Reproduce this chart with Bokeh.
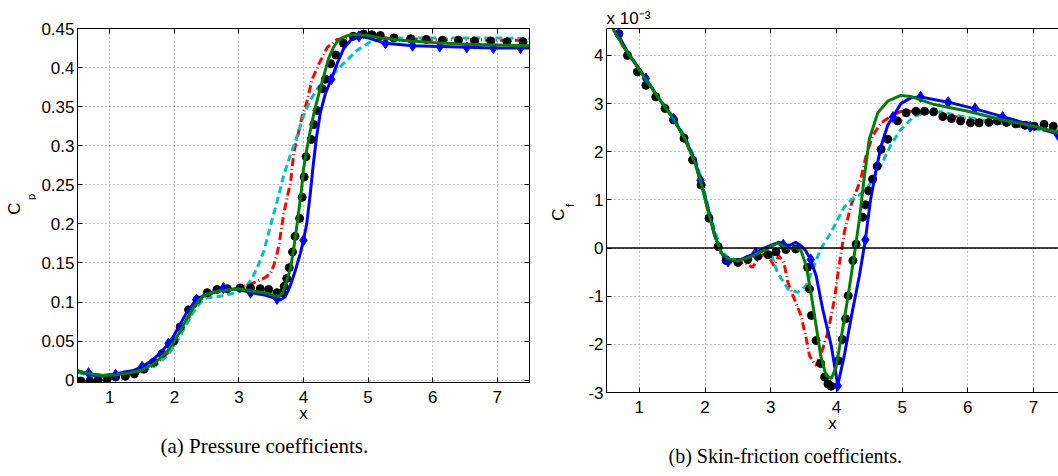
from math import pi
from bokeh.plotting import figure
from bokeh.layouts import row
from bokeh.models import LinearAxis, FixedTicker, CustomJSTickFormatter, Span, Title, Label
from bokeh.embed import file_html
from bokeh.resources import INLINE

# ---------------- data: (a) pressure coefficient ----------------
cp_exp_x = [0.55, 0.69, 0.82, 0.96, 1.09, 1.24, 1.38, 1.53, 1.68, 1.81, 1.99, 2.09, 2.22, 2.35,
            2.51, 2.66, 2.82, 3.02, 3.18, 3.33, 3.46, 3.59, 3.67, 3.70, 3.74, 3.78, 3.83, 3.87,
            3.94, 3.98, 4.01, 4.04, 4.12, 4.16, 4.21, 4.29, 4.34, 4.42, 4.50, 4.62, 4.77, 4.93,
            5.06, 5.19, 5.40, 5.66, 5.90, 6.15, 6.40, 6.65, 6.90, 7.15, 7.40]
cp_exp_y = [-0.001, -0.001, 0.000, 0.001, 0.004, 0.005, 0.008, 0.014, 0.023, 0.034, 0.050, 0.068,
            0.090, 0.103, 0.112, 0.116, 0.117, 0.118, 0.118, 0.117, 0.116, 0.112, 0.112, 0.120,
            0.130, 0.144, 0.164, 0.184, 0.207, 0.234, 0.260, 0.286, 0.308, 0.327, 0.345, 0.373,
            0.385, 0.405, 0.416, 0.431, 0.440, 0.443, 0.442, 0.441, 0.438, 0.437, 0.436, 0.435,
            0.435, 0.434, 0.434, 0.433, 0.433]

cp_blue_x = [0.5, 0.6, 0.7, 0.8, 0.9, 1.0, 1.1, 1.2, 1.35, 1.5, 1.65, 1.8, 1.91, 2.0, 2.1, 2.2,
             2.34, 2.5, 2.76, 3.0, 3.18, 3.4, 3.59, 3.65, 3.72, 3.8, 3.88, 3.95, 4.0, 4.05, 4.1,
             4.15, 4.2, 4.26, 4.34, 4.43, 4.52, 4.62, 4.73, 4.86, 5.0, 5.27, 5.69, 6.11, 6.53,
             6.94, 7.36, 7.5]
cp_blue_y = [0.012, 0.009, 0.007, 0.006, 0.006, 0.007, 0.008, 0.010, 0.012, 0.017, 0.025, 0.036,
             0.047, 0.058, 0.073, 0.088, 0.103, 0.110, 0.117, 0.116, 0.112, 0.109, 0.104, 0.103,
             0.107, 0.122, 0.142, 0.162, 0.179, 0.200, 0.235, 0.275, 0.310, 0.342, 0.367, 0.385,
             0.405, 0.424, 0.435, 0.440, 0.438, 0.431, 0.428, 0.427, 0.426, 0.425, 0.425, 0.425]
cp_mark_x = [0.67, 1.09, 1.5, 1.91, 2.34, 2.76, 3.18, 3.59, 4.0, 4.43, 4.86, 5.27, 5.69, 6.11,
             6.53, 6.94, 7.36]
cp_mark_y = [0.009, 0.007, 0.017, 0.047, 0.103, 0.118, 0.112, 0.104, 0.179, 0.385, 0.440, 0.431,
             0.428, 0.427, 0.426, 0.425, 0.425]

cp_green_x = [0.5, 0.7, 0.9, 1.1, 1.3, 1.5, 1.7, 1.9, 2.0, 2.1, 2.2, 2.3, 2.4, 2.5, 2.7, 3.0, 3.2,
              3.4, 3.55, 3.62, 3.68, 3.74, 3.8, 3.86, 3.92, 3.97, 4.0, 4.05, 4.11, 4.17, 4.24,
              4.31, 4.39, 4.46, 4.52, 4.6, 4.68, 4.78, 4.88, 5.0, 5.2, 5.5, 6.0, 6.5, 7.0, 7.5]
cp_green_y = [0.012, 0.008, 0.006, 0.007, 0.009, 0.013, 0.022, 0.038, 0.050, 0.064, 0.080, 0.094,
              0.104, 0.110, 0.114, 0.117, 0.114, 0.112, 0.108, 0.107, 0.112, 0.128, 0.143, 0.175,
              0.211, 0.245, 0.270, 0.295, 0.321, 0.345, 0.367, 0.388, 0.412, 0.425, 0.433, 0.438,
              0.441, 0.442, 0.442, 0.441, 0.438, 0.435, 0.432, 0.430, 0.429, 0.428]

cp_red_x = [0.5, 0.7, 0.9, 1.1, 1.3, 1.5, 1.7, 1.9, 2.0, 2.1, 2.2, 2.3, 2.4, 2.5, 2.7, 3.0, 3.18,
            3.33, 3.42, 3.49, 3.54, 3.58, 3.62, 3.69, 3.75, 3.8, 3.85, 3.92, 3.98, 4.05, 4.13,
            4.24, 4.37, 4.52, 4.73, 5.0, 5.5, 6.0, 6.5, 7.0, 7.5]
cp_red_y = [0.011, 0.008, 0.006, 0.006, 0.008, 0.012, 0.020, 0.035, 0.047, 0.061, 0.077, 0.092,
            0.102, 0.108, 0.114, 0.118, 0.123, 0.128, 0.132, 0.137, 0.147, 0.158, 0.173, 0.211,
            0.235, 0.253, 0.291, 0.316, 0.338, 0.355, 0.384, 0.405, 0.426, 0.436, 0.439, 0.439,
            0.437, 0.436, 0.436, 0.435, 0.435]

cp_cyan_x = [0.5, 0.7, 0.9, 1.1, 1.3, 1.5, 1.7, 1.9, 2.0, 2.1, 2.2, 2.3, 2.4, 2.5, 2.77, 3.0, 3.1,
             3.2, 3.28, 3.39, 3.49, 3.59, 3.69, 3.8, 3.9, 4.0, 4.11, 4.24, 4.39, 4.52, 4.68, 4.83,
             5.04, 5.24, 5.5, 6.0, 6.5, 7.0, 7.5]
cp_cyan_y = [0.010, 0.006, 0.004, 0.005, 0.007, 0.011, 0.018, 0.032, 0.044, 0.058, 0.073, 0.088,
             0.099, 0.105, 0.108, 0.113, 0.118, 0.130, 0.143, 0.166, 0.198, 0.228, 0.261, 0.289,
             0.312, 0.338, 0.359, 0.376, 0.386, 0.397, 0.410, 0.422, 0.433, 0.437, 0.438, 0.438,
             0.438, 0.438, 0.437]

# ---------------- data: (b) skin friction (values x 1e-3) ----------------
cf_exp_x = [0.69, 0.82, 0.97, 1.10, 1.25, 1.39, 1.52, 1.68, 1.81, 1.94, 2.06, 2.20, 2.32, 2.50,
            2.65, 2.80, 2.96, 3.08, 3.23, 3.38, 3.56, 3.59, 3.62, 3.69, 3.76, 3.82, 3.87, 3.92,
            4.03, 4.09, 4.14, 4.18, 4.25, 4.30, 4.40, 4.44, 4.49, 4.55, 4.62, 4.68, 4.78, 4.93,
            5.06, 5.21, 5.34, 5.48, 5.62, 5.75, 5.89, 6.04, 6.17, 6.32, 6.45, 6.59, 6.73, 6.87,
            7.01, 7.16, 7.30]
cf_exp_y = [4.45, 4.00, 3.66, 3.38, 3.14, 2.90, 2.66, 2.28, 1.83, 1.31, 0.62, 0.03, -0.26, -0.30,
            -0.24, -0.17, -0.14, -0.08, -0.03, -0.02, -0.40, -0.85, -1.40, -1.92, -2.40, -2.68,
            -2.82, -2.87, -2.34, -1.90, -1.47, -0.99, -0.26, 0.08, 0.64, 0.90, 1.19, 1.43, 1.70,
            2.05, 2.26, 2.64, 2.81, 2.84, 2.84, 2.83, 2.73, 2.69, 2.64, 2.60, 2.60, 2.61, 2.64,
            2.61, 2.58, 2.55, 2.53, 2.57, 2.53]

cf_blue_x = [0.65, 0.75, 0.85, 1.0, 1.1, 1.3, 1.52, 1.7, 1.85, 1.93, 2.05, 2.15, 2.25, 2.33, 2.5,
             2.65, 2.77, 2.9, 3.05, 3.13, 3.19, 3.3, 3.38, 3.46, 3.53, 3.6, 3.69, 3.79, 3.92,
             4.02, 4.12, 4.23, 4.35, 4.44, 4.52, 4.6, 4.68, 4.78, 4.87, 4.98, 5.13, 5.28, 5.5,
             5.7, 6.11, 6.53, 6.95, 7.37, 7.5]
cf_blue_y = [4.50, 4.25, 4.00, 3.72, 3.52, 3.10, 2.69, 2.25, 1.80, 1.41, 0.80, 0.25, -0.10, -0.27,
             -0.26, -0.18, -0.10, 0.00, 0.08, 0.12, 0.07, 0.06, 0.12, 0.05, -0.05, -0.22, -0.57,
             -1.26, -2.02, -2.85, -2.23, -1.40, -0.57, 0.17, 1.01, 1.60, 2.12, 2.55, 2.75, 3.00,
             3.12, 3.14, 3.08, 3.03, 2.89, 2.73, 2.56, 2.36, 2.30]
cf_mark_x = [0.68, 1.10, 1.52, 1.93, 2.35, 2.77, 3.19, 3.61, 4.02, 4.44, 4.86, 5.28, 5.70, 6.11,
             6.53, 6.95, 7.37]
cf_mark_y = [4.45, 3.52, 2.69, 1.41, -0.28, -0.10, 0.07, -0.24, -2.86, 0.17, 2.72, 3.14, 3.03,
             2.90, 2.72, 2.52, 2.35]

cf_green_x = [0.6, 0.75, 0.9, 1.1, 1.3, 1.5, 1.7, 1.85, 1.95, 2.05, 2.15, 2.25, 2.35, 2.5, 2.7,
              2.9, 3.03, 3.1, 3.18, 3.26, 3.38, 3.46, 3.54, 3.61, 3.69, 3.76, 3.84, 3.92, 3.99,
              4.07, 4.17, 4.27, 4.35, 4.42, 4.5, 4.63, 4.78, 4.98, 5.13, 5.49, 6.0, 6.5, 7.01,
              7.38, 7.5]
cf_green_y = [4.55, 4.20, 3.90, 3.50, 3.10, 2.72, 2.25, 1.75, 1.30, 0.75, 0.25, -0.10, -0.22,
              -0.27, -0.18, -0.05, 0.05, 0.10, 0.05, -0.02, 0.01, -0.05, -0.37, -0.92, -1.61,
              -2.23, -2.64, -2.71, -2.50, -1.88, -1.06, -0.16, 0.60, 1.43, 2.26, 2.81, 3.05,
              3.17, 3.15, 2.98, 2.84, 2.67, 2.53, 2.40, 2.36]

cf_red_x = [0.6, 0.75, 0.9, 1.1, 1.3, 1.5, 1.7, 1.85, 1.95, 2.05, 2.15, 2.25, 2.35, 2.5, 2.6,
            2.72, 2.8, 2.9, 2.98, 3.05, 3.12, 3.2, 3.26, 3.36, 3.46, 3.54, 3.59, 3.64, 3.69, 3.76,
            3.87, 3.97, 4.04, 4.12, 4.22, 4.37, 4.45, 4.55, 4.68, 4.83, 4.98, 5.18, 5.49, 5.89,
            6.3, 6.76, 7.38, 7.5]
cf_red_y = [4.55, 4.20, 3.90, 3.50, 3.10, 2.72, 2.25, 1.75, 1.30, 0.75, 0.25, -0.15, -0.28, -0.32,
            -0.30, -0.40, -0.25, -0.12, -0.20, -0.37, -0.16, -0.30, -0.71, -1.06, -1.40, -1.88,
            -2.23, -2.35, -2.44, -2.23, -1.75, -1.06, -0.37, 0.33, 0.88, 1.43, 1.91, 2.33, 2.60,
            2.74, 2.84, 2.84, 2.81, 2.71, 2.64, 2.53, 2.40, 2.36]

cf_cyan_x = [0.6, 0.75, 0.9, 1.1, 1.3, 1.5, 1.7, 1.85, 1.95, 2.05, 2.15, 2.25, 2.35, 2.5, 2.65,
             2.85, 3.0, 3.1, 3.26, 3.41, 3.54, 3.66, 3.76, 3.92, 4.02, 4.12, 4.22, 4.37, 4.47,
             4.58, 4.68, 4.83, 4.98, 5.18, 5.39, 5.59, 5.89, 6.3, 6.76, 7.38, 7.5]
cf_cyan_y = [4.55, 4.22, 3.92, 3.52, 3.12, 2.75, 2.30, 1.85, 1.40, 0.85, 0.35, -0.05, -0.20,
             -0.25, -0.20, -0.02, -0.09, -0.50, -0.85, -0.92, -0.78, -0.37, -0.02, 0.33, 0.60,
             0.85, 1.00, 1.12, 1.25, 1.50, 1.72, 2.15, 2.46, 2.74, 2.81, 2.83, 2.74, 2.64, 2.53,
             2.40, 2.36]

x_ticks = [1, 2, 3, 4, 5, 6, 7]
cp_ticks = [0, 0.05, 0.1, 0.15, 0.2, 0.25, 0.3, 0.35, 0.4, 0.45]
cf_ticks = [-3, -2, -1, 0, 1, 2, 3, 4]

BLUE, GREEN, RED, CYAN = "#0000FF", "#008000", "#FF0000", "#00BFBF"
SANS = "Liberation Sans"
SERIF = "Liberation Serif"
FMT = "return String(Math.round(tick*1000)/1000);"


def style_axis(ax, ticks, labels=True):
    ax.ticker = FixedTicker(ticks=ticks)
    ax.axis_line_color = "black"
    ax.axis_line_width = 1
    ax.major_tick_in = 5
    ax.major_tick_out = 0
    ax.major_tick_line_color = "black"
    ax.minor_tick_line_color = None
    ax.major_label_text_font = SANS
    ax.major_label_text_color = "black"
    if labels:
        ax.formatter = CustomJSTickFormatter(code=FMT)
        ax.major_label_standoff = 8
        ax.major_label_text_font_size = "17px"
    else:
        ax.formatter = CustomJSTickFormatter(code="return '';")
        ax.major_label_standoff = 0
        ax.major_label_text_font_size = "1px"


def make_fig(width, height, x_end, yr, yticks, bl, br, bt, bb, outline, ystand):
    p = figure(width=width, height=height, x_range=(0.5, x_end), y_range=yr, title=None,
               output_backend="svg", toolbar_location=None,
               min_border_left=bl, min_border_right=br, min_border_top=bt, min_border_bottom=bb)
    p.background_fill_color = "white"
    p.border_fill_color = "white"
    p.outline_line_color = "black" if outline else None
    style_axis(p.xaxis[0], x_ticks)
    style_axis(p.yaxis[0], yticks)
    p.yaxis[0].major_label_standoff = ystand
    xa = p.xaxis[0]
    xa.axis_label = "x"
    xa.axis_label_text_font = SANS
    xa.axis_label_text_font_size = "17px"
    xa.axis_label_text_font_style = "normal"
    xa.axis_label_text_color = "black"
    xa.axis_label_standoff = -2
    top = LinearAxis()
    style_axis(top, x_ticks, labels=False)
    p.add_layout(top, "above")
    if outline:
        right = LinearAxis()
        style_axis(right, yticks, labels=False)
        p.add_layout(right, "right")
    for g, t in ((p.xgrid[0], x_ticks), (p.ygrid[0], yticks)):
        g.ticker = FixedTicker(ticks=t)
        g.grid_line_color = "#808080"
        g.grid_line_dash = "1 3"
        g.grid_line_width = 1
    return p


def label_fig(width, height, bt, bb, items):
    f = figure(width=width, height=height, x_range=(0, 1), y_range=(0, 1), title=None,
               x_axis_type=None, y_axis_type=None, output_backend="svg", toolbar_location=None,
               min_border_left=0, min_border_right=0, min_border_top=bt, min_border_bottom=bb)
    f.outline_line_color = None
    f.background_fill_color = "white"
    f.border_fill_color = "white"
    for x, y, text, size in items:
        f.add_layout(Label(x=x, y=y, x_units="screen", y_units="screen", text=text,
                           angle=pi / 2, text_align="center", text_baseline="middle",
                           text_font=SANS, text_font_size=size, text_color="black"))
    return f


def title(p, side, text, size="17px", font=SANS, align="left", offset=0, standoff=0):
    p.add_layout(Title(text=text, align=align, offset=offset, standoff=standoff,
                       text_font=font, text_font_size=size, text_font_style="normal",
                       text_color="black"), side)


T, B = 28, 84

# ---------------- figure (a) ----------------
H1 = 466
p1 = make_fig(504, H1, 7.5, (-0.003, 0.45), cp_ticks, 41, 11, T, B, True, 3)
p1.line(cp_red_x, cp_red_y, line_color=RED, line_width=3, line_dash="8 3 1 3")
p1.line(cp_cyan_x, cp_cyan_y, line_color=CYAN, line_width=3, line_dash="7 4")
p1.scatter(cp_exp_x, cp_exp_y, marker="circle", size=8, fill_color="black", line_color="black")
p1.line(cp_blue_x, cp_blue_y, line_color=BLUE, line_width=3)
p1.scatter(cp_mark_x, cp_mark_y, marker="diamond", size=11, fill_color=BLUE, line_color=BLUE)
p1.line(cp_green_x, cp_green_y, line_color=GREEN, line_width=3)
title(p1, "below", "(a)  Pressure coefficients.", size="21px", font=SERIF, offset=83, standoff=12)
l1 = label_fig(36, H1, T, B, [(13.8, 174, "C", "17px"), (30, 185.5, "p", "11px")])

# ---------------- figure (b) ----------------
H2 = 476
p2 = make_fig(482, H2, 0.5 + 452 / 65.7, (-3, 4.56), cf_ticks, 30, 0, T, B, False, 3)
p2.add_layout(Span(location=0, dimension="width", line_color="black", line_width=1.5))
p2.line(cf_red_x, cf_red_y, line_color=RED, line_width=3, line_dash="8 3 1 3")
p2.line(cf_cyan_x, cf_cyan_y, line_color=CYAN, line_width=3, line_dash="7 4")
p2.scatter(cf_exp_x, cf_exp_y, marker="circle", size=8, fill_color="black", line_color="black")
p2.line(cf_blue_x, cf_blue_y, line_color=BLUE, line_width=3)
p2.scatter(cf_mark_x, cf_mark_y, marker="diamond", size=11, fill_color=BLUE, line_color=BLUE)
p2.line(cf_green_x, cf_green_y, line_color=GREEN, line_width=3)
title(p2, "above", "x 10\u207b\u00b3", size="17px", offset=0, standoff=1)
title(p2, "below", "(b)  Skin-friction coefficients.", size="20px", font=SERIF, offset=62,
      standoff=15)
l2 = label_fig(36, H2, T, B, [(18, 178, "C", "17px"), (29, 187, "f", "11px")])

layout = row(l1, p1, l2, p2)
open("out.html", "w").write(file_html(layout, INLINE))
